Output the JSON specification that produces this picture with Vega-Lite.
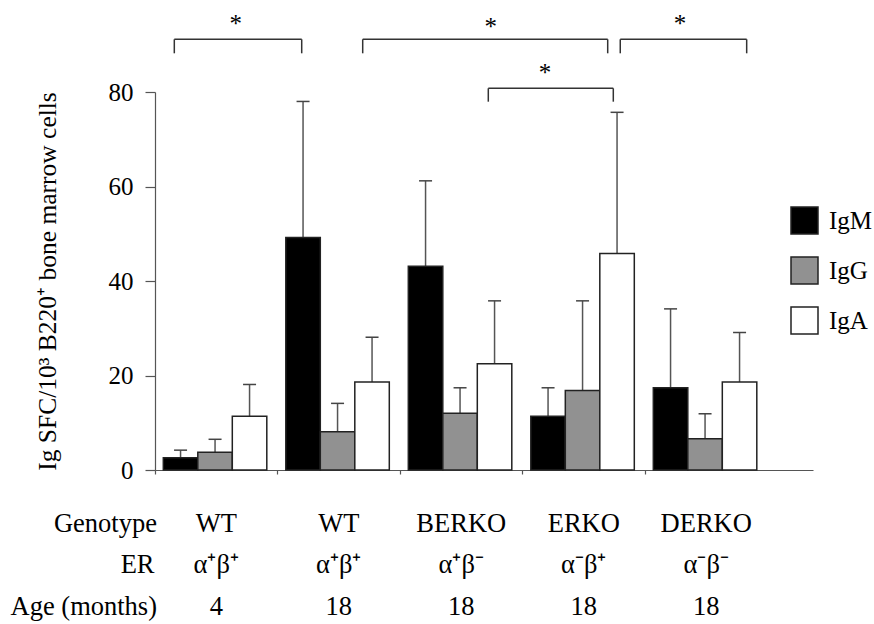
{
  "$schema": "https://vega.github.io/schema/vega-lite/v6.json",
  "width": 658,
  "height": 378,
  "autosize": {"type": "none"},
  "padding": {"left": 155, "top": 92, "right": 61, "bottom": 154},
  "background": "white",
  "config": {"view": {"stroke": null}, "font": "Liberation Serif", "axis": {"grid": false}},
  "datasets": {
    "bars": [
      {"grp": "WT 4", "ig": "IgM", "mean": 2.6, "hi": 4.2},
      {"grp": "WT 4", "ig": "IgG", "mean": 3.75, "hi": 6.5},
      {"grp": "WT 4", "ig": "IgA", "mean": 11.4, "hi": 18.1},
      {"grp": "WT 18", "ig": "IgM", "mean": 49.2, "hi": 78.0},
      {"grp": "WT 18", "ig": "IgG", "mean": 8.1, "hi": 14.1},
      {"grp": "WT 18", "ig": "IgA", "mean": 18.6, "hi": 28.1},
      {"grp": "BERKO", "ig": "IgM", "mean": 43.1, "hi": 61.2},
      {"grp": "BERKO", "ig": "IgG", "mean": 12.0, "hi": 17.4},
      {"grp": "BERKO", "ig": "IgA", "mean": 22.5, "hi": 35.8},
      {"grp": "ERKO", "ig": "IgM", "mean": 11.4, "hi": 17.4},
      {"grp": "ERKO", "ig": "IgG", "mean": 16.8, "hi": 35.8},
      {"grp": "ERKO", "ig": "IgA", "mean": 45.8, "hi": 75.7},
      {"grp": "DERKO", "ig": "IgM", "mean": 17.4, "hi": 34.1},
      {"grp": "DERKO", "ig": "IgG", "mean": 6.6, "hi": 11.9},
      {"grp": "DERKO", "ig": "IgA", "mean": 18.6, "hi": 29.1}
    ],
    "groups": [
      {"grp": "WT 4", "genotype": "WT", "er": "α⁺β⁺", "age": "4"},
      {"grp": "WT 18", "genotype": "WT", "er": "α⁺β⁺", "age": "18"},
      {"grp": "BERKO", "genotype": "BERKO", "er": "α⁺β⁻", "age": "18"},
      {"grp": "ERKO", "genotype": "ERKO", "er": "α⁻β⁺", "age": "18"},
      {"grp": "DERKO", "genotype": "DERKO", "er": "α⁻β⁻", "age": "18"}
    ],
    "brackets": [
      {"x1": 0.6576, "x2": 1.6976, "top": 91.15, "bot": 88.19, "xs": 1.1588, "ys": 92.63, "star": "*"},
      {"x1": 2.1955, "x2": 4.1955, "top": 91.15, "bot": 88.19, "xs": 3.2404, "ys": 92.13, "star": "*"},
      {"x1": 4.298, "x2": 5.33, "top": 91.15, "bot": 88.19, "xs": 4.7857, "ys": 92.7, "star": "*"},
      {"x1": 3.2208, "x2": 4.2412, "top": 80.78, "bot": 77.95, "xs": 3.6837, "ys": 82.26, "star": "*"}
    ],
    "headers": [
      {"h": "Genotype", "hx": 0.5, "hy": -13.06},
      {"h": "ER", "hx": 0.48, "hy": -21.74},
      {"h": "Age (months)", "hx": 0.5, "hy": -30.69}
    ]
  },
  "layer": [
    {
      "data": {"name": "brackets"},
      "encoding": {
        "x": {"field": "x1", "type": "quantitative", "scale": {"domain": [0.5, 5.8714], "nice": false, "zero": false}, "axis": null}
      },
      "layer": [
        {
          "mark": {"type": "rule", "stroke": "#333", "strokeWidth": 1.5},
          "encoding": {
            "x2": {"field": "x2"},
            "y": {
              "field": "top", "type": "quantitative",
              "scale": {"domain": [0, 80], "nice": false},
              "axis": {
                "values": [0, 20, 40, 60, 80],
                "title": "Ig SFC/10³ B220⁺ bone marrow cells",
                "titleFont": "Liberation Serif", "titleFontSize": 25.5, "titleFontWeight": "normal", "titleColor": "black", "titlePadding": 48,
                "labelFont": "Liberation Serif", "labelFontSize": 25, "labelColor": "black",
                "tickSize": 10, "labelPadding": 12,
                "domainColor": "#555", "tickColor": "#555", "domainWidth": 1.2, "tickWidth": 1.2
              }
            }
          }
        },
        {
          "mark": {"type": "rule", "stroke": "#333", "strokeWidth": 1.5},
          "encoding": {"y": {"field": "top", "type": "quantitative"}, "y2": {"field": "bot"}}
        },
        {
          "mark": {"type": "rule", "stroke": "#333", "strokeWidth": 1.5},
          "encoding": {"x": {"field": "x2", "type": "quantitative"}, "y": {"field": "top", "type": "quantitative"}, "y2": {"field": "bot"}}
        },
        {
          "mark": {"type": "text", "font": "Liberation Serif", "fontSize": 25, "color": "black", "baseline": "alphabetic"},
          "encoding": {"x": {"field": "xs", "type": "quantitative"}, "y": {"field": "ys", "type": "quantitative"}, "text": {"field": "star"}}
        },
        {
          "data": {"name": "headers"},
          "mark": {"type": "text", "font": "Liberation Serif", "fontSize": 26.5, "color": "black", "baseline": "alphabetic", "align": "right", "dx": 2},
          "encoding": {"x": {"field": "hx", "type": "quantitative"}, "y": {"field": "hy", "type": "quantitative"}, "text": {"field": "h"}}
        }
      ]
    },
    {
      "encoding": {
        "x": {
          "field": "grp", "type": "nominal",
          "sort": ["WT 4", "WT 18", "BERKO", "ERKO", "DERKO"],
          "scale": {"paddingInner": 0, "paddingOuter": 0.1857, "align": 0},
          "axis": {"orient": "bottom", "labels": false, "title": null, "bandPosition": 0, "tickSize": 4, "domainColor": "#555", "tickColor": "#555", "domainWidth": 1.2, "tickWidth": 1.2}
        }
      },
      "layer": [
        {
          "data": {"name": "bars"},
          "mark": {"type": "rule", "stroke": "#555", "strokeWidth": 1.5},
          "encoding": {
            "xOffset": {"field": "ig", "type": "nominal", "sort": ["IgM", "IgG", "IgA"], "scale": {"paddingInner": 0, "paddingOuter": 0.2754, "align": 0.437}},
            "y": {"field": "mean", "type": "quantitative"},
            "y2": {"field": "hi"}
          }
        },
        {
          "data": {"name": "bars"},
          "mark": {"type": "tick", "size": 13, "thickness": 1.5, "color": "#444", "opacity": 1},
          "encoding": {
            "xOffset": {"field": "ig", "type": "nominal", "sort": ["IgM", "IgG", "IgA"]},
            "y": {"field": "hi", "type": "quantitative"}
          }
        },
        {
          "data": {"name": "bars"},
          "mark": {"type": "bar", "stroke": "#222", "strokeWidth": 1.5},
          "encoding": {
            "xOffset": {"field": "ig", "type": "nominal", "sort": ["IgM", "IgG", "IgA"]},
            "y": {"field": "mean", "type": "quantitative"},
            "fill": {
              "field": "ig", "type": "nominal",
              "scale": {"domain": ["IgM", "IgG", "IgA"], "range": ["#000000", "#919191", "#ffffff"]},
              "legend": {
                "title": null, "orient": "none", "legendX": 635, "legendY": 114,
                "symbolType": "square", "symbolSize": 729, "symbolStrokeColor": "#222", "symbolStrokeWidth": 1.5,
                "labelFont": "Liberation Serif", "labelFontSize": 25, "labelColor": "black", "labelOffset": 10,
                "rowPadding": 17, "padding": 0
              }
            }
          }
        },
        {
          "data": {"name": "groups"},
          "mark": {"type": "text", "font": "Liberation Serif", "fontSize": 26.5, "color": "black", "baseline": "alphabetic"},
          "encoding": {"y": {"datum": -13.06, "type": "quantitative"}, "text": {"field": "genotype"}}
        },
        {
          "data": {"name": "groups"},
          "mark": {"type": "text", "font": "Liberation Serif", "fontSize": 26.5, "color": "black", "baseline": "alphabetic"},
          "encoding": {"y": {"datum": -21.74, "type": "quantitative"}, "text": {"field": "er"}}
        },
        {
          "data": {"name": "groups"},
          "mark": {"type": "text", "font": "Liberation Serif", "fontSize": 26.5, "color": "black", "baseline": "alphabetic"},
          "encoding": {"y": {"datum": -30.69, "type": "quantitative"}, "text": {"field": "age"}}
        }
      ]
    }
  ],
  "resolve": {"scale": {"x": "independent"}}
}
